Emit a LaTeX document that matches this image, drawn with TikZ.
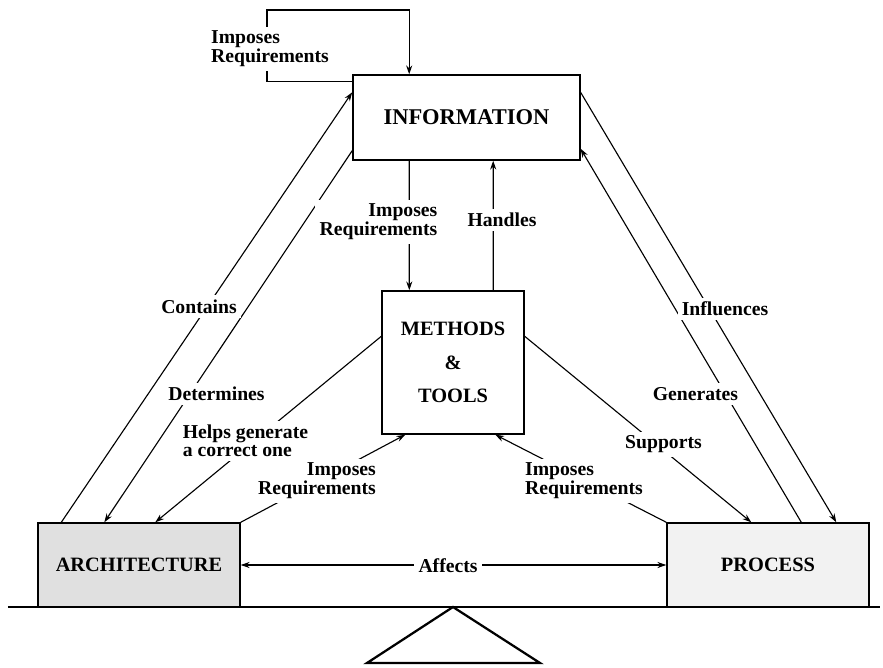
\documentclass[tikz,border=0pt]{standalone}
\usepackage{fontspec}
\setmainfont{Liberation Serif}
\usetikzlibrary{arrows.meta}

\begin{document}
\begin{tikzpicture}[
		>={Stealth[length=2.2mm, width=1.5mm]},
		box/.style={rectangle, draw=black, line width=1pt, inner sep=0pt, align=center, font=\fontsize{14.5}{24}\selectfont\bfseries},
		weight/.style={box, minimum width=5.05cm, minimum height=2.1cm},
		tag/.style={fill=white, inner sep=3pt, align=center, font=\fontsize{14}{12.5}\selectfont\bfseries},
		link/.style={->, line width=0.8pt}
		]
		\useasboundingbox (0, 0) rectangle (22.075, 16.675);
		% boxes
		\node at (11.66, 13.7375) [name=information, box, minimum width=5.675cm, minimum height=2.125cm, font=\fontsize{16}{20}\selectfont\bfseries] {INFORMATION};
		\node at (11.325, 7.6125) [name=methods, box, minimum width=3.55cm, minimum height=3.575cm] {METHODS\\\&\\TOOLS};
		\node at (3.475, 2.55) [name=architecture, weight, fill=black!12] {ARCHITECTURE};
		\node at (19.2, 2.55) [name=process, weight, fill=black!5] {PROCESS};
		\coordinate (loop corner) at (6.675, 16.425);

		% balance
		\draw[line width=1.6pt] (0.2, 1.5) -- (22.0, 1.5);
		\draw[line width=1.6pt] (11.325, 1.5) -- (9.175, 0.1) -- (13.5, 0.1) -- cycle;

		% connectors
		\draw[link] ([yshift=-1.75mm]information.north west) -| (loop corner) -| ([xshift=14.25mm]information.north west);
		\draw[link] ([xshift=6mm]architecture.north west) -- ([yshift=-4.5mm]information.north west);
		\draw[link] ([yshift=2.5mm]information.south west) -- ([xshift=16.75mm]architecture.north west);
		\draw[link] ([yshift=-11.5mm]methods.north west) -- ([xshift=29.5mm]architecture.north west);
		\draw[link] (architecture.north east) -- ([xshift=6mm]methods.south west);
		\draw[link] (process.north west) -- ([xshift=28.5mm]methods.south west);
		\draw[<->, line width=0.8pt] (architecture) -- (process);
		\draw[link] ([yshift=-11.5mm]methods.north east) -- ([xshift=21.25mm]process.north west);
		\draw[link] ([xshift=33.75mm]process.north west) -- ([yshift=3mm]information.south east);
		\draw[link] ([yshift=-4.5mm]information.north east) -- ([xshift=42.5mm]process.north west);
		\draw[link] ([xshift=14.25mm]information.south west) -- ([xshift=7mm]methods.north west);
		\draw[link] ([xshift=28mm]methods.north west) -- ([xshift=35.25mm]information.south west);

		% labels
		\node at (6.75, 15.45) [name=imposes loop, tag, align=left] {Imposes\\Requirements};
		\node at (9.4625, 11.125) [name=imposes info, tag, align=right] {Imposes\\Requirements};
		\node at (12.55, 11.175) [name=handles, tag] {Handles};
		\node at (4.975, 9.0125) [name=contains, tag] {Contains};
		\node at (5.4125, 6.825) [name=determines, tag] {Determines};
		\node at (6.1375, 5.65) [name=helps, tag, align=left] {Helps generate\\a correct one};
		\node at (7.925, 4.65) [name=imposes arch, tag, align=right] {Imposes\\Requirements};
		\node at (14.6, 4.65) [name=imposes process, tag, align=left] {Imposes\\Requirements};
		\node at (11.2, 2.525) [name=affects, tag] {Affects};
		\node at (16.5875, 5.5625) [name=supports, tag] {Supports};
		\node at (17.3875, 6.825) [name=generates, tag] {Generates};
		\node at (18.125, 8.95) [name=influences, tag] {Influences};
	\end{tikzpicture}
\end{document}
